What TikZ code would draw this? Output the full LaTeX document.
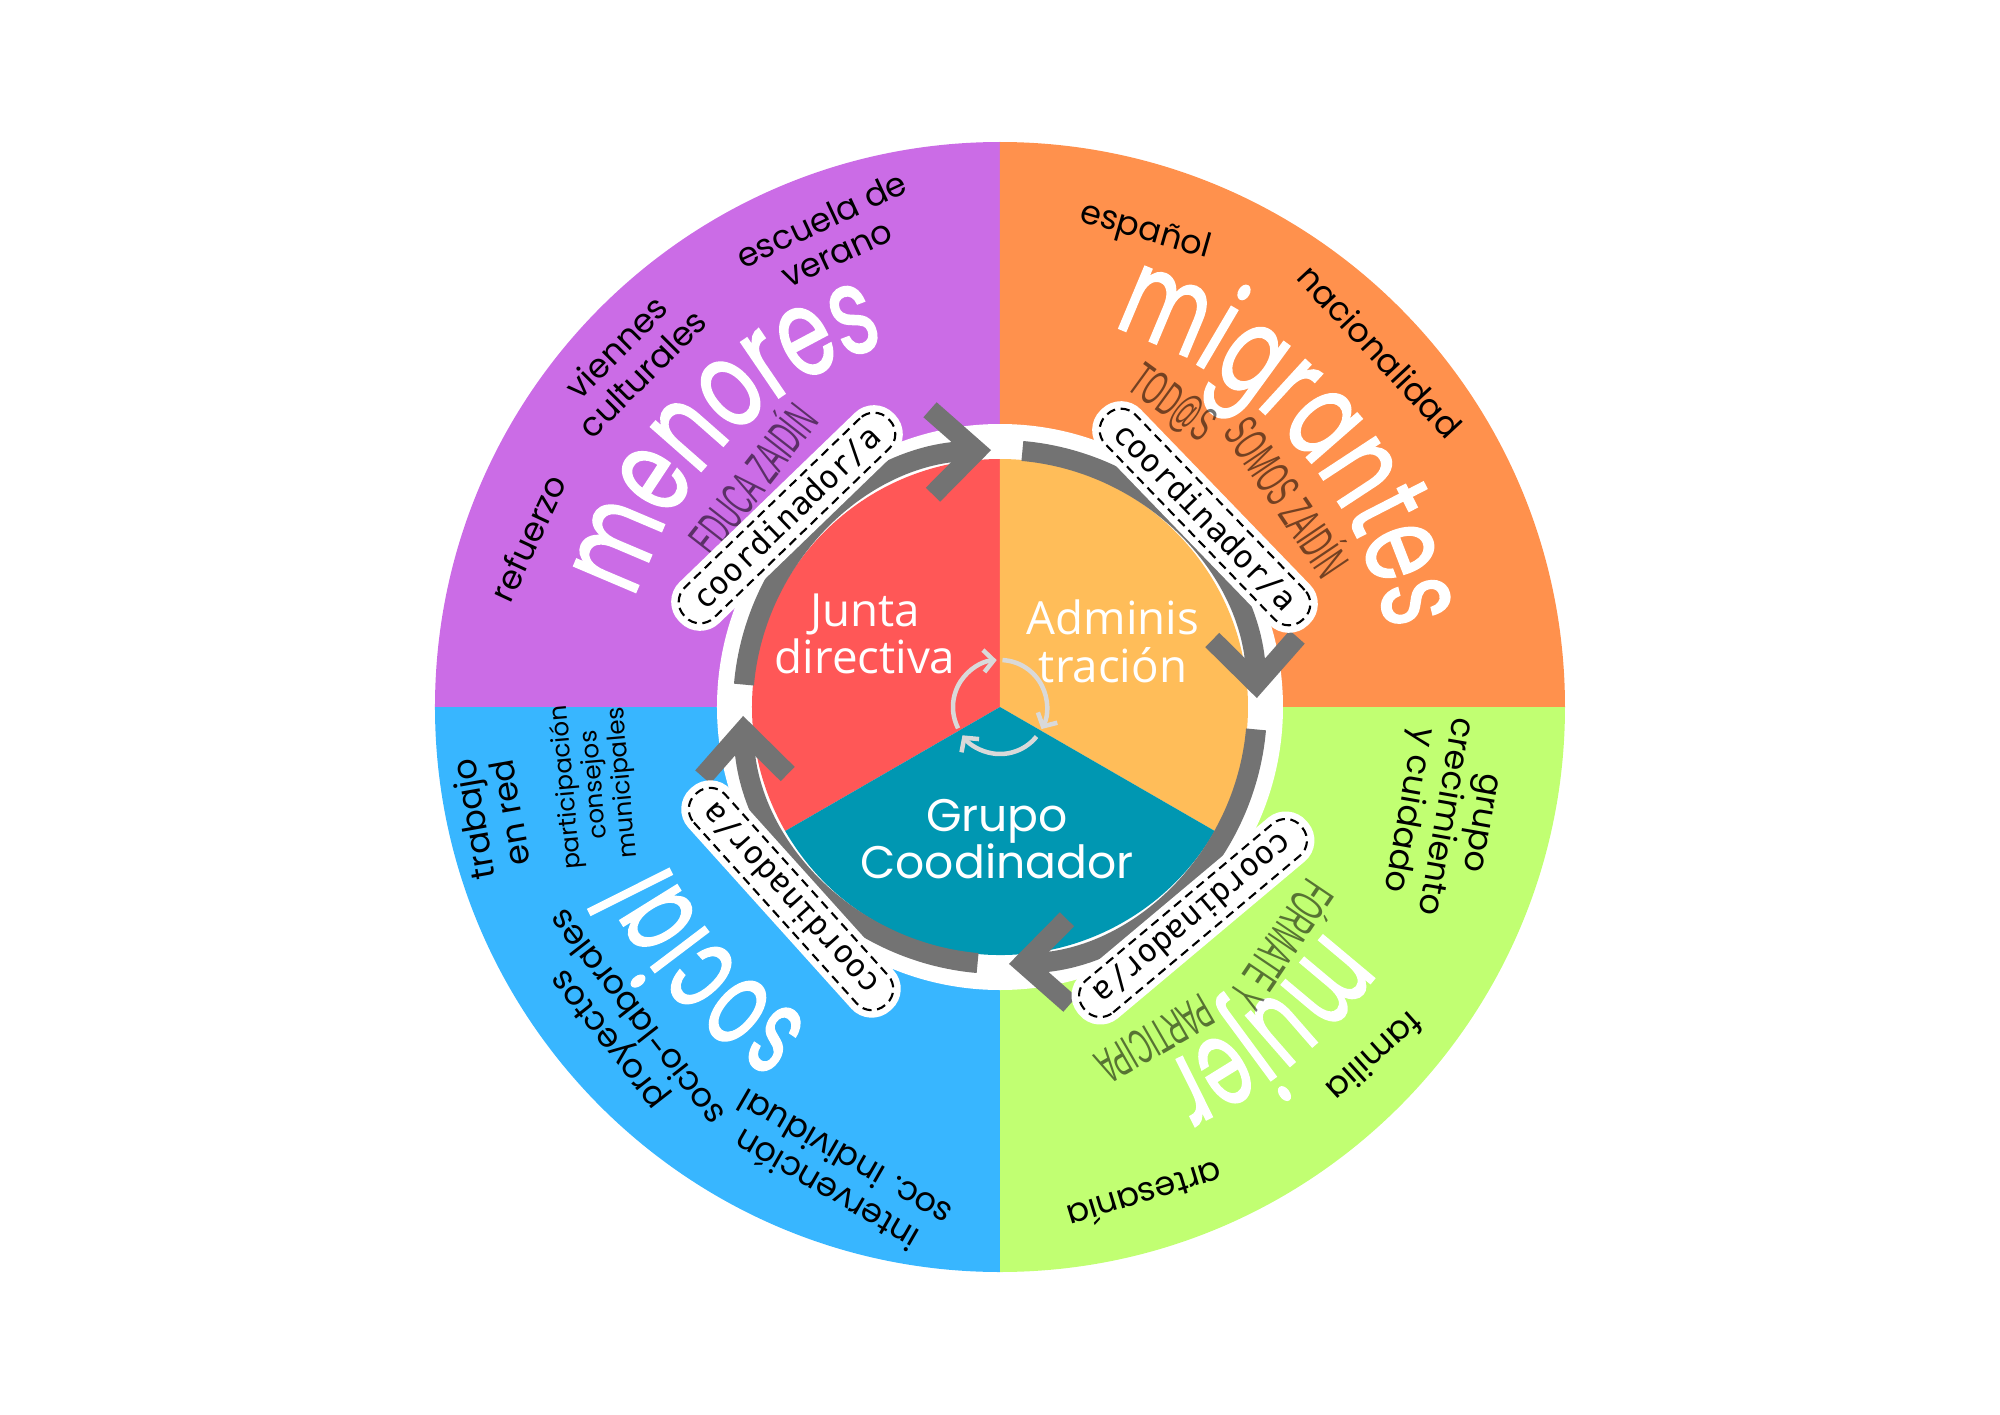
\documentclass[tikz,border=0pt]{standalone}
\usepackage{fontspec}
\usepackage{graphicx}
\setmainfont{Poppins}
\newfontfamily\piefont{Open Sans}
\newfontfamily\monofont{DejaVu Sans Mono}
\newfontfamily\thinfont{Liberation Sans}
\newfontfamily\wordfont{Poppins}[FakeStretch=0.68, FakeBold=1.2]
\newfontfamily\slimfont{Poppins}[FakeStretch=0.6, FakeBold=1.2]
\usetikzlibrary{arrows.meta,decorations.text}

\definecolor{menorescol}{HTML}{CB6CE6}
\definecolor{migrantescol}{HTML}{FF914D}
\definecolor{socialcol}{HTML}{38B6FF}
\definecolor{mujercol}{HTML}{C1FF72}
\definecolor{juntacol}{HTML}{FF5757}
\definecolor{admincol}{HTML}{FFBD59}
\definecolor{grupocol}{HTML}{0097B2}
\definecolor{ringgray}{HTML}{737373}
\definecolor{spingray}{HTML}{D9D9D9}

\newcommand\bigfont{\wordfont\fontsize{35}{37}\selectfont}
\newcommand\slimbig{\slimfont\fontsize{35}{37}\selectfont}
\newcommand\narrow[1]{\scalebox{0.5}[1]{#1}}

\tikzset{
  ringarrow/.style={draw=ringgray, line width=0.2cm,
    -{Straight Barb[length=0.45cm,width=0.85cm,sharp]}},
  spinarrow/.style={draw=spingray, line width=0.045cm,
    -{Straight Barb[length=0.1cm,width=0.22cm]}},
  coordbox/.style={font=\monofont\fontsize{9}{9}\selectfont, fill=white, draw=black,
    dash pattern=on 2.6pt off 1.6pt, line width=0.6pt, rounded corners=0.2cm,
    minimum height=0.42cm, inner xsep=0.18cm, inner ysep=0pt,
    preaction={draw=white, solid, line width=0.15cm}},
  tag/.style={font=\fontsize{9.5}{10.5}\selectfont, align=center, text=black},
  subtag/.style={font=\thinfont\fontsize{14}{14}\selectfont, text=black, text opacity=0.55},
  pietext/.style={font=\piefont\fontsize{13}{13.5}\selectfont, text=white, align=center},
  bigword/.style={decorate, decoration={text along path, text align=center,
    text color=white, text={|\bigfont|#1}}},
  slimword/.style={decorate, decoration={text along path, text align=center,
    text color=white, text={|\slimbig|#1}}}
}

\begin{document}
\begin{tikzpicture}
\useasboundingbox (-10,-7.07) rectangle (10,7.07);

\fill[menorescol] (0,0) -- (180:5.65) arc[start angle=180, end angle=90, radius=5.65] -- cycle;
\fill[migrantescol] (0,0) -- (90:5.65) arc[start angle=90, end angle=0, radius=5.65] -- cycle;
\fill[mujercol] (0,0) -- (0:5.65) arc[start angle=0, end angle=-90, radius=5.65] -- cycle;
\fill[socialcol] (0,0) -- (-90:5.65) arc[start angle=-90, end angle=-180, radius=5.65] -- cycle;

\path[bigword=menores] (180.5:3.8) arc[start angle=180.5, end angle=90.5, radius=3.8];
\path[bigword=migrantes] (87.3:3.95) arc[start angle=87.3, end angle=-2.7, radius=3.95];
\path[slimword=mujer] (-5:3.94) arc[start angle=-5, end angle=-95, radius=3.94];
\path[slimword=social] (-93:3.68) arc[start angle=-93, end angle=-183, radius=3.68];

\node[subtag, rotate=52] (educa) at (-2.50,2.30) {\narrow{EDUCA ZAIDÍN}};
\node[subtag, rotate=-36] (todos) at (1.72,3.03) {\narrow{TOD@S}};
\node[subtag, rotate=-56] (somos) at (2.90,2.12) {\narrow{SOMOS ZAIDÍN}};
\node[subtag, rotate=-124] (formate) at (2.85,-2.40) {\narrow{FÓRMATE Y}};
\node[subtag, rotate=-150] (participa) at (1.55,-3.32) {\narrow{PARTICIPA}};

\node[tag, rotate=65] (refuerzo) at (-4.72,1.69) {refuerzo};
\node[tag, rotate=45] (viennes) at (-3.71,3.47) {viennes\\culturales};
\node[tag, rotate=25] (escuela) at (-1.71,4.71) {escuela de\\verano};
\node[tag, rotate=-16] (espanol) at (1.45,4.75) {español};
\node[tag, rotate=-47] (nacionalidad) at (3.80,3.56) {nacionalidad};
\node[tag, rotate=-100] (crecimiento) at (4.41,-1.09) {grupo\\crecimiento\\y cuidado};
\node[tag, rotate=-138] (familia) at (3.75,-3.50) {familia};
\node[tag, rotate=-163] (artesania) at (1.45,-4.89) {artesanía};
\node[tag, rotate=150] (intervencion) at (-1.65,-4.68) {intervención\\soc. individual};
\node[tag, rotate=128] (proyectos) at (-3.78,-3.22) {proyectos\\socio-laborales};
\node[tag, rotate=100] (trabajo) at (-5.09,-1.09) {trabajo\\en red};
\node[tag, rotate=95, font=\fontsize{7}{8}\selectfont] (participacion) at (-4.05,-0.78) {participación\\consejos\\municipales};

\fill[white] (0,0) circle (2.83);

\fill[juntacol] (0,0) -- (90:2.48) arc[start angle=90, end angle=210, radius=2.48] -- cycle;
\fill[admincol] (0,0) -- (90:2.48) arc[start angle=90, end angle=-30, radius=2.48] -- cycle;
\fill[grupocol] (0,0) -- (210:2.48) arc[start angle=210, end angle=330, radius=2.48] -- cycle;

\foreach \a in {175,85,-5,-95}
  \draw[ringarrow] (\a:2.57) arc[start angle=\a, end angle=\a-83, radius=2.57];

\node[coordbox, rotate=44] (coordmenores) at (-2.13,1.89) {coordinador/a};
\node[coordbox, rotate=-46] (coordmigrantes) at (2.05,1.90) {coordinador/a};
\node[coordbox, rotate=-140] (coordmujer) at (1.93,-2.11) {coordinador/a};
\node[coordbox, rotate=132] (coordsocial) at (-2.09,-1.92) {coordinador/a};

\node[pietext] (junta) at (-1.35,0.73) {Junta\\directiva};
\node[pietext] (admin) at (1.13,0.655) {Adminis\\tración};
\node[pietext, font=\fontsize{13}{13.5}\selectfont] (grupo) at (-0.03,-1.32) {Grupo\\Coodinador};

\foreach \s/\e in {207/94, 87/-28, -39/-143}
  \draw[spinarrow] (\s:0.47) arc[start angle=\s, end angle=\e, radius=0.47];
\end{tikzpicture}
\end{document}
